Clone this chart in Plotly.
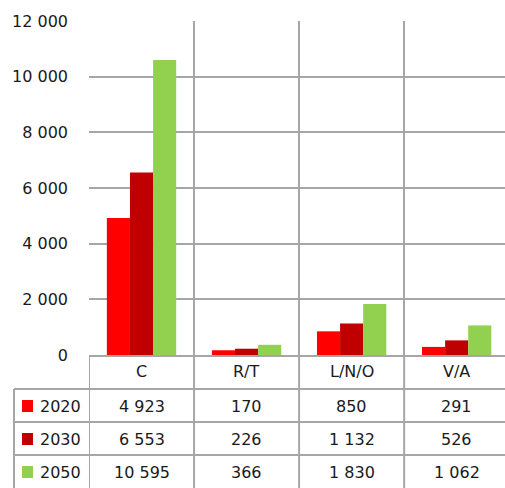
import plotly.graph_objects as go

# данные
categories = ["C", "R/T", "L/N/O", "V/A"]
years = ["2020", "2030", "2050"]
v2020 = [4923, 170, 850, 291]
v2030 = [6553, 226, 1132, 526]
v2050 = [10595, 366, 1830, 1062]
colors = ["#FF0000", "#C00000", "#92D050"]
y_ticks = [0, 2000, 4000, 6000, 8000, 10000, 12000]

series = [v2020, v2030, v2050]

W, H = 505, 488
L, T, B = 89, 21, 133          # поля, пиксели
PW, PH = W - L, H - T - B      # область графика
GRID = "#A6A6A6"
TXT = "#1a1a1a"
FONT = "DejaVu Sans"


def px(p):      # пиксель x -> paper
    return (p - L) / PW


def py(p):      # пиксель y -> paper
    return (H - B - p) / PH


def fmt(v):
    return f"{v:,}".replace(",", " ")


fig = go.Figure()
for name, vals, c in zip(years, series, colors):
    fig.add_trace(go.Bar(x=categories, y=vals, name=name, marker_color=c,
                         marker_line=dict(width=0)))

shapes = []
# вертикальные линии таблицы
for b in [-0.5, 0.5, 1.5, 2.5, 3.5]:
    shapes.append(dict(type="line", xref="x", yref="paper", x0=b, x1=b,
                       y0=0, y1=py(H + 5), line=dict(color=GRID, width=2)))
# левая граница таблицы
shapes.append(dict(type="line", xref="paper", yref="paper", x0=px(14), x1=px(14),
                   y0=py(389), y1=py(H + 5), line=dict(color=GRID, width=2)))
# горизонтальные линии таблицы
for yy in [389, 422, 455]:
    shapes.append(dict(type="line", xref="paper", yref="paper", x0=px(14), x1=1.02,
                       y0=py(yy), y1=py(yy), line=dict(color=GRID, width=2)))

ann = []
row_y = [406, 439, 472]
tf = dict(size=16, color=TXT, family=FONT)
for i, c in enumerate(categories):
    ann.append(dict(x=c, y=py(372), xref="x", yref="paper", text=c, showarrow=False,
                    xanchor="center", yanchor="middle", font=tf))
for r, (name, vals, col) in enumerate(zip(years, series, colors)):
    yc = row_y[r]
    shapes.append(dict(type="rect", xref="paper", yref="paper", x0=px(22), x1=px(33),
                       y0=py(yc + 6), y1=py(yc - 6), fillcolor=col, line=dict(width=0)))
    ann.append(dict(x=px(38), y=py(yc), xref="paper", yref="paper", text=name,
                    showarrow=False, xanchor="left", yanchor="middle", font=tf))
    for c, v in zip(categories, vals):
        ann.append(dict(x=c, y=py(yc), xref="x", yref="paper", text=fmt(v),
                        showarrow=False, xanchor="center", yanchor="middle", font=tf))

fig.update_layout(
    width=W, height=H,
    margin=dict(l=L, r=0, t=T, b=B),
    paper_bgcolor="white", plot_bgcolor="white",
    barmode="group", bargap=0.34, bargroupgap=0,
    showlegend=False,
    separators=", ",
    font=dict(family=FONT, size=16, color=TXT),
    shapes=shapes, annotations=ann,
)
fig.update_xaxes(range=[-0.5, 3.46], tickson="boundaries", showgrid=True,
                 gridcolor=GRID, gridwidth=2, showticklabels=False,
                 showline=True, linecolor=GRID, linewidth=2, fixedrange=True)
fig.update_yaxes(range=[0, 12000], tickvals=y_ticks, tickformat=",d",
                 showgrid=True, gridcolor=GRID, gridwidth=2, zeroline=False,
                 ticks="", ticklabelstandoff=20, showline=False,
                 tickfont=tf)

# убрать отступ body, чтобы график стоял в углу окна
fig.write_html("out.html", config={"displayModeBar": False},
               post_script="document.body.style.margin='0';")
